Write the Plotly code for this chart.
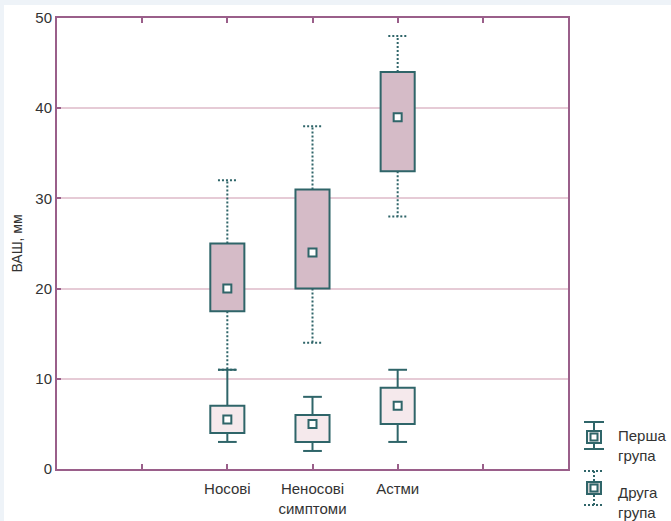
import plotly.graph_objects as go

# ---- data ----
categories = ['Носові', 'Неносові<br>симптоми', 'Астми']
g1_min = [3, 2, 3]
g1_q1 = [4, 3, 5]
g1_mid = [5.5, 5, 7]
g1_q3 = [7, 6, 9]
g1_max = [11, 8, 11]

g2_min = [11, 14, 28]
g2_q1 = [17.5, 20, 33]
g2_mid = [20, 24, 39]
g2_q3 = [25, 31, 44]
g2_max = [32, 38, 48]

legend_names = ['Перша<br>група', 'Друга<br>група']
y_ticks = [0, 10, 20, 30, 40, 50]

# ---- style ----
TEAL = '#2f6569'
AXIS = '#9a5f8a'
GRID = '#e6cbd6'
FILL1 = '#f5e9ec'
FILL2 = '#d5bbc7'
TXT = '#333333'
FONT = 'Liberation Sans, Arial, sans-serif'

W, H = 671, 521
L, R, T, B = 57, 568, 18, 469

pos = [i + 2 for i in range(len(categories))]
BOX_W = 0.4
CAP = 0.11

fig = go.Figure()


def add_group(q1, mid, q3, lo, hi, fill, dash):
    # whiskers + caps
    xs, ys = [], []
    for x, a, b, c, d in zip(pos, q1, q3, lo, hi):
        xs += [x, x, None, x, x, None, x - CAP, x + CAP, None, x - CAP, x + CAP, None]
        ys += [b, d, None, a, c, None, d, d, None, c, c, None]
    fig.add_trace(go.Scatter(x=xs, y=ys, mode='lines',
                             line=dict(color=TEAL, width=2, dash=dash),
                             hoverinfo='skip', showlegend=False))
    fig.add_trace(go.Bar(x=pos, base=q1, y=[b - a for a, b in zip(q1, q3)],
                         width=BOX_W, marker=dict(color=fill, line=dict(color=TEAL, width=2)),
                         showlegend=False))
    fig.add_trace(go.Scatter(x=pos, y=mid, mode='markers',
                             marker=dict(symbol='square', size=8, color='white',
                                         line=dict(color=TEAL, width=2)),
                             showlegend=False))


add_group(g1_q1, g1_mid, g1_q3, g1_min, g1_max, FILL1, 'solid')
add_group(g2_q1, g2_mid, g2_q3, g2_min, g2_max, FILL2, '2px,2px')


def px(x):
    return (x - L) / (R - L)


def py(y):
    return (B - y) / (B - T)


shapes = []
# page background: light band at top and left
shapes.append(dict(type='rect', xref='paper', yref='paper', x0=px(4), x1=px(W + 5),
                   y0=py(H + 5), y1=py(5), fillcolor='white', line=dict(width=0), layer='below'))

# manual legend
def legend_icon(top, cap_top, cap_bot, fill, dash, boxline):
    cx = 594
    shapes.append(dict(type='line', xref='paper', yref='paper', x0=px(cx), x1=px(cx),
                       y0=py(cap_top), y1=py(cap_bot), line=dict(color=TEAL, width=2, dash=dash)))
    for cy in (cap_top, cap_bot):
        shapes.append(dict(type='line', xref='paper', yref='paper', x0=px(584), x1=px(604),
                           y0=py(cy), y1=py(cy), line=dict(color=TEAL, width=2, dash=dash)))
    shapes.append(dict(type='rect', xref='paper', yref='paper', x0=px(587), x1=px(601),
                       y0=py(top + 12), y1=py(top), fillcolor=fill, line=dict(color=boxline, width=2)))
    shapes.append(dict(type='rect', xref='paper', yref='paper', x0=px(590.5), x1=px(597.5),
                       y0=py(top + 9.5), y1=py(top + 2.5), fillcolor='white', line=dict(color=TEAL, width=2)))


legend_icon(431, 422, 449, '#f7f2f4', 'solid', TEAL)
legend_icon(482, 471, 505, '#d0d0d0', '2px,2px', TEAL)

annotations = [
    dict(xref='paper', yref='paper', x=px(616), y=py(445), xanchor='left', yanchor='middle',
         text=legend_names[0], showarrow=False, align='left',
         font=dict(family=FONT, size=15, color=TXT)),
    dict(xref='paper', yref='paper', x=px(616), y=py(502), xanchor='left', yanchor='middle',
         text=legend_names[1], showarrow=False, align='left',
         font=dict(family=FONT, size=15, color=TXT)),
]

fig.update_layout(
    width=W, height=H,
    margin=dict(l=L, r=W - R, t=T, b=H - B, pad=0, autoexpand=False),
    paper_bgcolor='#eef3f8',
    plot_bgcolor='white',
    barmode='overlay',
    showlegend=False,
    shapes=shapes,
    annotations=annotations,
    font=dict(family=FONT, size=15, color=TXT),
    xaxis=dict(range=[0, 6], tickmode='array', tickvals=[1, 2, 3, 4, 5],
               ticktext=[''] + categories + [''], ticks='inside', ticklen=5,
               tickcolor=AXIS, tickwidth=2, showgrid=False, zeroline=False,
               showline=True, linecolor=AXIS, linewidth=2, mirror='ticks',
               ticklabelstandoff=5, automargin=False,
               tickfont=dict(size=15, color=TXT), fixedrange=True),
    yaxis=dict(range=[0, 50], tickmode='array', tickvals=y_ticks,
               ticks='inside', ticklen=4, tickcolor=AXIS, tickwidth=2,
               showgrid=True, gridcolor=GRID, gridwidth=1.5, zeroline=False,
               showline=True, linecolor=AXIS, linewidth=2, mirror=True,
               tickfont=dict(size=15, color=TXT), automargin=False,
               title=dict(text='ВАШ, мм', font=dict(size=14, color=TXT), standoff=9),
               fixedrange=True),
)

fig.write_html('out.html', config={'displayModeBar': False},
               post_script="document.body.style.margin='0px';document.body.style.overflow='hidden';")
